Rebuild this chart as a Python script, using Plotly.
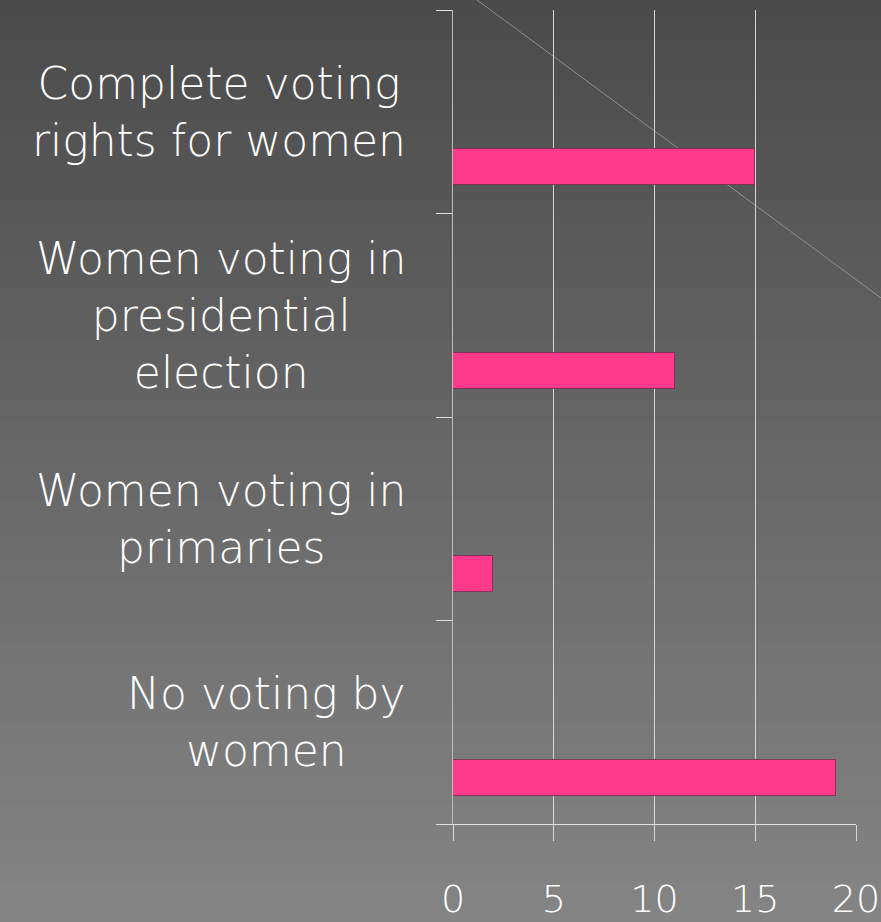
import plotly.graph_objects as go

# Data (bottom to top)
categories = ["No voting by women", "Women voting in primaries",
              "Women voting in presidential election", "Complete voting rights for women"]
label_text = ["No voting by<br>women", "Women voting in<br>primaries",
              "Women voting in<br>presidential<br>election", "Complete voting<br>rights for women"]
values = [19, 2, 11, 15]
x_ticks = [0, 5, 10, 15, 20]

W, H = 881, 922
ML, MR, MT, MB = 453, 25, 10, 98

fig = go.Figure()
fig.add_trace(go.Bar(
    y=categories, x=values, orientation="h",
    width=0.178, offset=-0.362,
    marker=dict(color="#FF3A8A", line=dict(color="rgba(110,40,70,0.7)", width=1)),
    hoverinfo="x+y", showlegend=False,
))

# background gradient strips (paper coords)
shapes = []
n = 46
top = (0x4b, 0x4b, 0x4b)
bot = (0x84, 0x84, 0x84)
pw, ph = W - ML - MR, H - MT - MB
for i in range(n):
    t = i / (n - 1)
    c = tuple(int(round(top[k] + (bot[k] - top[k]) * t)) for k in range(3))
    y1 = 1 + MT / ph - i * (H / n) / ph
    y0 = y1 - (H / n) / ph - 0.002
    shapes.append(dict(type="rect", xref="paper", yref="paper",
                       x0=-ML / pw - 0.01, x1=1 + MR / pw + 0.01,
                       y0=y0, y1=y1, fillcolor="rgb(%d,%d,%d)" % c,
                       line=dict(width=0), layer="below"))
# decorative diagonal line
def px(x): return (x - ML) / pw
def py(y): return 1 - (y - MT) / ph
shapes.append(dict(type="line", xref="paper", yref="paper",
                   x0=px(477), y0=py(0), x1=px(881), y1=py(298),
                   line=dict(color="rgba(170,170,170,0.7)", width=1), layer="between"))

annotations = []
for cat, txt in zip(categories, label_text):
    annotations.append(dict(x=px(408), xref="paper", y=cat, yref="y",
                            text=txt, showarrow=False, xanchor="right", yanchor="middle",
                            align="center",
                            font=dict(family="DejaVu Sans", size=44, color="white", weight=200)))

fig.update_layout(
    width=W, height=H, autosize=False,
    margin=dict(l=ML, r=MR, t=MT, b=MB, autoexpand=False),
    paper_bgcolor="#666666", plot_bgcolor="rgba(0,0,0,0)",
    shapes=shapes, annotations=annotations,
    bargap=0,
    xaxis=dict(range=[0, 20], tickvals=x_ticks, ticktext=[str(v) for v in x_ticks],
               showgrid=True, gridcolor="#d6d6d6", gridwidth=1,
               zeroline=False, showline=True, linecolor="#e0e0e0", linewidth=1,
               ticks="outside", ticklen=16, tickcolor="#d6d6d6", tickwidth=1,
               ticklabelstandoff=25, ticklabeloverflow="allow", automargin=False,
               tickfont=dict(family="DejaVu Sans", size=38, color="white", weight=200),
               fixedrange=True),
    yaxis=dict(type="category", categoryorder="array", categoryarray=categories,
               range=[-0.5, 3.5], showticklabels=False, tickson="boundaries",
               ticks="outside", ticklen=16, tickcolor="#e0e0e0", tickwidth=1,
               showgrid=False, showline=True, linecolor="#bdbdbd", linewidth=1,
               zeroline=False, fixedrange=True, automargin=False),
    showlegend=False,
)

fig.write_html("out.html", config={"displayModeBar": False},
               post_script="document.body.style.margin='0';document.body.style.overflow='hidden';")
